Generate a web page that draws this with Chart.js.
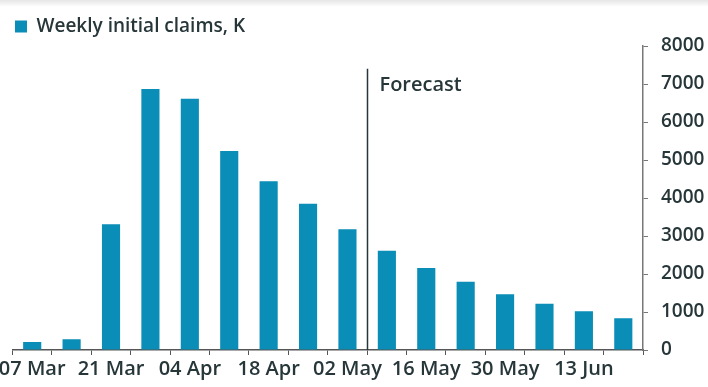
<!DOCTYPE html>
<html>
<head>
<meta charset="utf-8">
<script src="https://cdn.jsdelivr.net/npm/chart.js@4.4.1/dist/chart.umd.min.js"></script>
<style>
  html, body { margin: 0; padding: 0; background: #ffffff; }
  #wrap { width: 708px; height: 387px; position: relative;
          background: linear-gradient(to bottom, #e6e6e6 0px, #ffffff 7px, #ffffff 100%); }
</style>
</head>
<body>
<div id="wrap"><canvas id="c" width="708" height="387"></canvas></div>
<script>
const categories = ['07 Mar','14 Mar','21 Mar','28 Mar','04 Apr','11 Apr','18 Apr','25 Apr','02 May','09 May','16 May','23 May','30 May','06 Jun','13 Jun','20 Jun'];
const claims = [211, 282, 3307, 6867, 6615, 5237, 4442, 3846, 3176, 2610, 2160, 1795, 1470, 1215, 1020, 836];
const seriesName = 'Weekly initial claims, K';
const yTicks = [0, 1000, 2000, 3000, 4000, 5000, 6000, 7000, 8000];
const forecastLabel = 'Forecast';
const forecastAfterIndex = 8;

const TEXT = '#263639';
const BAR = '#0a8db6';
const FONT = "'Open Sans', sans-serif";

const legendShift = {
  id: 'legendShift',
  afterLayout(chart) {
    if (chart.legend) { chart.legend.left = 5; }
  }
};

const forecastPlugin = {
  id: 'forecast',
  afterDatasetsDraw(chart) {
    const x = chart.scales.x, y = chart.scales.y, ctx = chart.ctx;
    const px = Math.round((x.getPixelForValue(forecastAfterIndex) + x.getPixelForValue(forecastAfterIndex + 1)) / 2) + 0.5;
    ctx.save();
    ctx.strokeStyle = '#263639';
    ctx.lineWidth = 1.5;
    ctx.beginPath();
    ctx.moveTo(px, y.getPixelForValue(7400));
    ctx.lineTo(px, y.bottom);
    ctx.stroke();
    ctx.fillStyle = TEXT;
    ctx.font = "600 20px " + FONT;
    ctx.textBaseline = 'middle';
    ctx.textAlign = 'left';
    ctx.fillText(forecastLabel, px + 12, y.getPixelForValue(6960));
    ctx.restore();
  }
};

new Chart(document.getElementById('c'), {
  type: 'bar',
  data: {
    labels: categories,
    datasets: [{
      label: seriesName,
      data: claims,
      backgroundColor: BAR,
      borderWidth: 0,
      barPercentage: 0.46,
      categoryPercentage: 1.0
    }]
  },
  options: {
    responsive: false,
    animation: false,
    layout: { padding: { top: 7, left: 12.5, right: 2, bottom: 4 } },
    plugins: {
      legend: {
        display: true,
        position: 'top',
        align: 'start',
        labels: {
          boxWidth: 12, boxHeight: 12,
          color: TEXT,
          font: { family: FONT, size: 19, weight: '600' },
          padding: 10
        }
      },
      tooltip: { enabled: false }
    },
    scales: {
      x: {
        offset: true,
        afterFit(axis) { axis.paddingLeft = 0; axis.paddingRight = 0; },
        grid: { display: true, offset: true, drawOnChartArea: false, drawTicks: true, tickLength: 5, color: '#555' },
        border: { display: true, color: '#555', width: 1.5 },
        ticks: {
          autoSkip: false, maxRotation: 0, padding: 2,
          color: TEXT,
          font: { family: FONT, size: 20, weight: '600' },
          callback: function(v, i) { return i % 2 === 0 ? categories[i] : ''; }
        }
      },
      y: {
        position: 'right',
        min: 0, max: 8000,
        afterBuildTicks(axis) { axis.ticks = yTicks.map(v => ({ value: v })); },
        afterFit(axis) { axis.width = 63; },
        grid: { drawOnChartArea: false, drawTicks: true, tickLength: 5, color: '#777' },
        border: { display: true, color: '#777', width: 1.5 },
        ticks: {
          padding: 13,
          color: TEXT,
          font: { family: FONT, size: 19, weight: '600' },
          callback: function(v) { return String(v); }
        }
      }
    }
  },
  plugins: [legendShift, forecastPlugin]
});
</script>
</body>
</html>
